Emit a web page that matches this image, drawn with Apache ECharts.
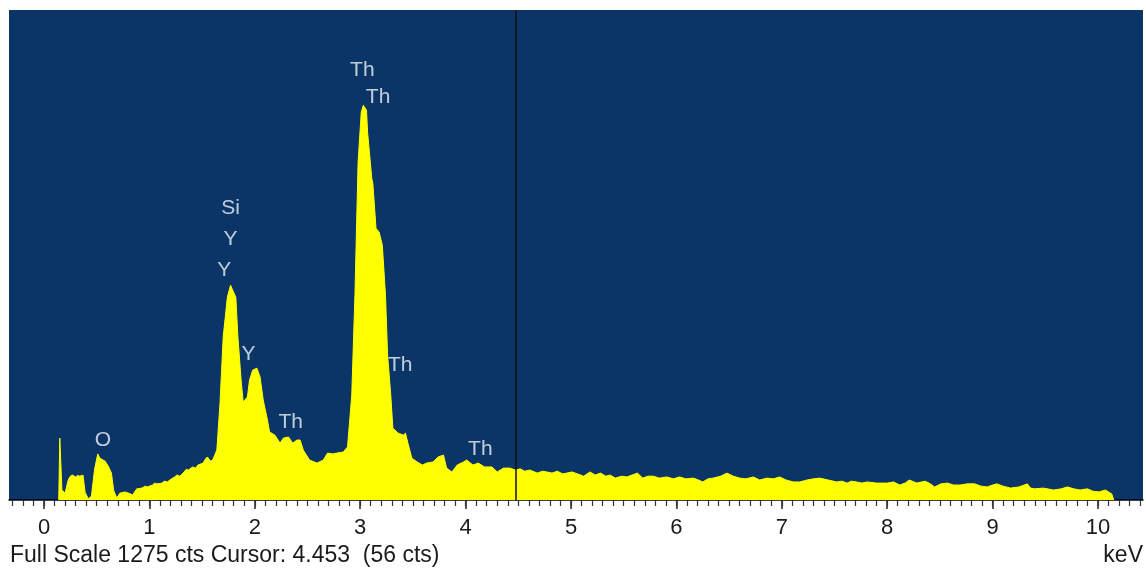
<!DOCTYPE html>
<html><head><meta charset="utf-8">
<script src="https://cdn.jsdelivr.net/npm/echarts@6/dist/echarts.min.js"></script>
<style>html,body{margin:0;padding:0;background:#fff}#c{width:1146px;height:569px}</style>
</head><body><div id="c"></div>
<script>
// Spectrum (keV, counts)
const energy = [0.14,0.15,0.16,0.17,0.20,0.23,0.25,0.27,0.30,0.32,0.34,0.37,0.39,0.42,0.45,0.48,0.51,0.53,0.56,0.58,0.61,0.64,0.66,0.69,0.72,0.77,0.82,0.84,0.88,0.93,0.96,0.98,1.03,1.05,1.07,1.12,1.14,1.17,1.21,1.24,1.26,1.29,1.32,1.35,1.37,1.41,1.44,1.46,1.51,1.53,1.55,1.58,1.60,1.64,1.67,1.70,1.74,1.77,1.79,1.82,1.84,1.87,1.89,1.93,1.95,1.98,2.02,2.05,2.08,2.12,2.14,2.19,2.24,2.27,2.32,2.36,2.40,2.43,2.46,2.52,2.59,2.65,2.69,2.74,2.78,2.84,2.88,2.92,2.95,2.98,3.01,3.03,3.06,3.07,3.11,3.12,3.15,3.18,3.21,3.24,3.26,3.29,3.31,3.36,3.41,3.43,3.45,3.49,3.54,3.59,3.63,3.69,3.74,3.79,3.82,3.87,3.92,3.98,4.01,4.07,4.12,4.18,4.25,4.30,4.36,4.42,4.47,4.52,4.56,4.61,4.68,4.73,4.77,4.82,4.87,4.92,4.96,5.01,5.06,5.12,5.18,5.23,5.28,5.33,5.37,5.42,5.48,5.53,5.58,5.63,5.68,5.73,5.78,5.84,5.91,5.97,6.03,6.09,6.16,6.21,6.25,6.30,6.35,6.42,6.48,6.54,6.60,6.66,6.73,6.79,6.86,6.92,6.98,7.04,7.11,7.17,7.24,7.30,7.36,7.44,7.52,7.57,7.62,7.66,7.71,7.76,7.81,7.90,8.00,8.06,8.12,8.17,8.21,8.28,8.36,8.41,8.45,8.51,8.57,8.63,8.69,8.76,8.83,8.89,8.95,9.00,9.04,9.10,9.17,9.25,9.33,9.36,9.40,9.48,9.58,9.65,9.71,9.77,9.83,9.90,9.95,10.01,10.07,10.10,10.13,10.14,10.15];
const counts = [0,161,161,26,18,52,62,65,60,64,62,65,20,3,10,80,120,109,104,101,88,70,26,5,18,21,16,13,29,31,36,34,39,44,42,44,49,47,55,60,65,62,70,80,78,86,83,91,96,106,112,101,104,130,252,424,528,559,546,528,424,312,255,268,312,338,343,320,260,208,177,169,148,161,164,148,156,156,130,104,96,104,122,120,122,125,138,273,533,879,1009,1027,1014,957,837,824,707,697,663,533,377,273,187,174,169,174,151,109,99,91,96,99,112,117,83,73,91,99,104,91,96,86,86,73,83,83,78,81,75,78,70,75,73,70,75,68,70,73,68,62,73,65,70,62,65,57,62,60,65,70,57,62,62,57,60,55,60,55,57,52,47,55,57,62,70,62,57,55,60,52,57,55,60,52,47,47,52,55,57,52,47,49,44,49,47,44,47,44,44,47,39,44,52,44,49,42,34,42,44,39,39,42,42,36,34,39,42,36,31,34,42,31,29,31,26,29,34,29,26,29,23,21,26,21,16,13,0];

const fullScale = 1275;
const majorTicks = [0,1,2,3,4,5,6,7,8,9,10];
const tickLabels = ['0','1','2','3','4','5','6','7','8','9','10'];

const peakNames = ['O','Si','Y','Y','Y','Th','Th','Th','Th','Th'];
const peakKeV  = [0.56,1.77,1.77,1.71,1.94,2.34,3.02,3.17,3.38,4.14];
const peakCts  = [156,760,679,598,380,203,1119,1049,351,133];

const cursorKeV = 4.48;
const footerText = 'Full Scale 1275 cts Cursor: 4.453  (56 cts)';
const unitText = 'keV';

const minorTicks = [];
for (let i = -3; i <= 104; i++) minorTicks.push(i / 10);

const FONT = '"Liberation Sans", Arial, sans-serif';
const xMin = -0.332, xMax = 10.427;

const chart = echarts.init(document.getElementById('c'), null, {renderer: 'canvas'});
chart.setOption({
  animation: false,
  backgroundColor: '#ffffff',
  grid: {left: 9, right: 3, top: 10, bottom: 69, show: true, backgroundColor: '#0a3566', borderWidth: 0},
  xAxis: [{
    type: 'value', min: xMin, max: xMax, position: 'bottom',
    axisLine: {show: true, onZero: false, lineStyle: {color: '#000', width: 1.5}},
    axisTick: {show: true, customValues: majorTicks, length: 9, lineStyle: {color: '#222', width: 1.5}},
    axisLabel: {show: true, customValues: majorTicks, margin: 17, fontSize: 22, color: '#1a1a1a', fontFamily: FONT,
      formatter: v => tickLabels[majorTicks.indexOf(Math.round(v))]},
    splitLine: {show: false}
  }, {
    type: 'value', min: xMin, max: xMax, position: 'bottom',
    axisLine: {show: false, onZero: false},
    axisTick: {show: true, customValues: minorTicks, length: 6, lineStyle: {color: '#333', width: 1.2}},
    axisLabel: {show: false},
    splitLine: {show: false}
  }],
  yAxis: {type: 'value', min: 0, max: fullScale, show: false},
  series: [{
    type: 'line', xAxisIndex: 0,
    data: energy.map((e, i) => [e, counts[i]]),
    symbol: 'none', silent: true,
    lineStyle: {color: '#ffff00', width: 1},
    areaStyle: {color: '#ffff00', opacity: 1},
    markLine: {
      silent: true, symbol: 'none', animation: false,
      label: {show: false},
      lineStyle: {color: '#111', width: 1.5, type: 'solid'},
      data: [{xAxis: cursorKeV}]
    }
  }, {
    type: 'scatter', xAxisIndex: 0, symbolSize: 0, silent: true,
    data: peakNames.map((n, i) => ({name: n, value: [peakKeV[i], peakCts[i]]})),
    label: {show: true, position: 'inside', formatter: p => p.name, fontSize: 21, color: '#eef2f8', fontFamily: FONT}
  }],
  graphic: [{
    type: 'text', left: 10, top: 544,
    style: {text: footerText, font: '23px ' + FONT, fill: '#1a1a1a'}
  }, {
    type: 'text', right: 3, top: 544,
    style: {text: unitText, font: '23px ' + FONT, fill: '#1a1a1a'}
  }]
});
</script>
</body></html>
